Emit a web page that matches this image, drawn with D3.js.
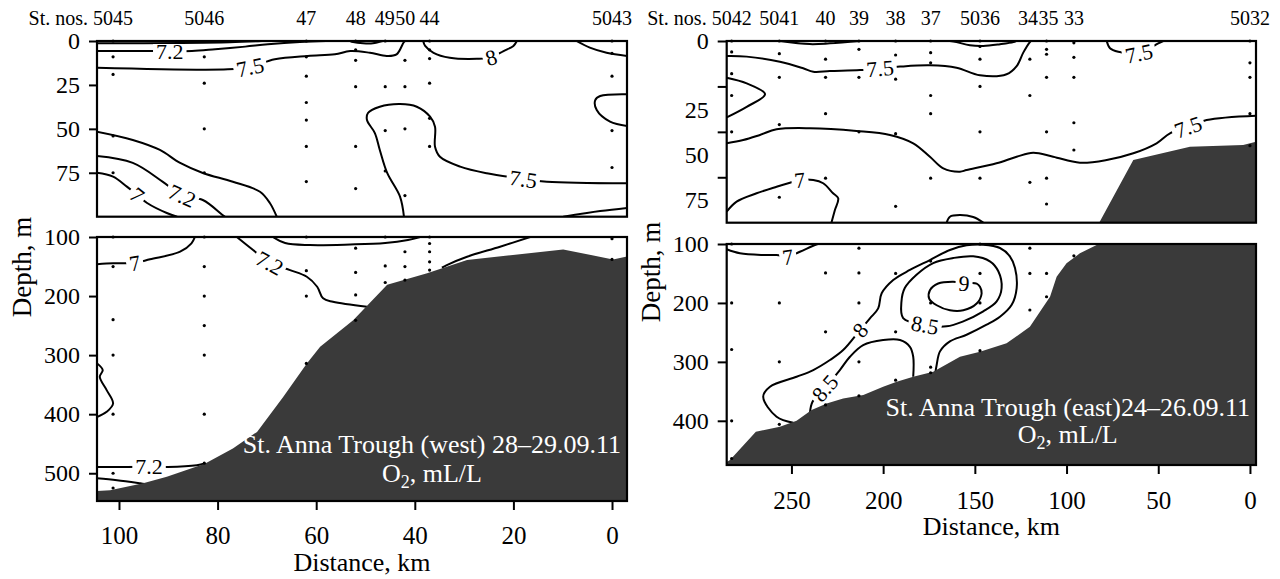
<!DOCTYPE html>
<html>
<head>
<meta charset="utf-8">
<script src="https://cdn.jsdelivr.net/npm/d3@7"></script>
<style>
  body { margin: 0; background: #fff; }
</style>
</head>
<body>
<svg id="chart" width="1280" height="579" font-family="'Liberation Serif', 'Times New Roman', serif"></svg>
<script>
// ---------------- West section: St. Anna Trough (west) ----------------
const westStationNames = ["5045", "5046", "47", "48", "49", "50", "44", "5043"];
const westStationDist = [101.2, 82.7, 62, 52, 46, 42, 37, 0];
const westSampleDepths = [
  [0, 9, 19, 54, 75, 100, 150, 240, 300, 400, 500, 525],
  [9, 24, 50, 75, 100, 150, 200, 250, 300, 400, 483],
  [0, 9, 20, 35, 45, 60, 80, 100, 157, 200, 314],
  [0, 5, 11, 26, 60, 84, 119, 160, 198, 241],
  [0, 26, 51, 74, 100, 149, 177],
  [11, 26, 50, 88, 125, 150, 173],
  [0, 5, 10, 24, 44, 60, 100, 111, 125, 142, 156],
  [0, 7, 20, 51, 72, 103, 138]
];
// sea floor along the section: [distance km, depth m]
const westBottom = [[104.5, 530], [101.8, 529], [95.1, 517], [90.3, 506], [82.6, 484], [76.9, 458],
  [72, 430], [66.7, 371], [61.9, 314], [59.2, 286], [52.5, 241], [45.6, 181], [37.5, 161.5],
  [29.4, 139], [20.1, 130.5], [9.9, 121], [-0.2, 138], [-3.1, 133]];
// O2 isolines, 0-100 m; "label" is the index of the point carrying the value label
const westUpperContours = [
  { level: "7", pts: [[104.5, 1.3], [87.6, 1.1], [77.5, 0.7], [71, 0]] },
  { level: "7.2", label: 2, pts: [[104.5, 5.7], [93.7, 5.7], [89.7, 5.7], [85.2, 5.7], [80.5, 4.7], [74.4, 3.2], [69.8, 1.9], [63.3, 0.6], [58, 0]] },
  { level: "7.5", label: 2, pts: [[104.5, 15.2], [77.9, 16.1], [73.4, 14.8], [68.4, 10.4], [61.7, 8.5], [56.2, 7.6], [53.1, 5.7], [49.1, 6.7], [45.7, 8.5], [43.7, 7.6], [42.3, 1], [42, 0]] },
  { level: "7.5", pts: [[53.1, 0], [52.5, 0.6], [50.5, 1.3], [48.5, 1.3], [46.5, 0]] },
  { level: "8", label: 5, pts: [[38.3, 0], [37.9, 2.8], [36.2, 6.7], [32.9, 9.5], [27.4, 10.1], [24.5, 9.3], [22, 5.7], [20, 2.8], [19.3, 0]] },
  { level: "8", pts: [[7.2, 0], [4.5, 3.8], [1.1, 6.7], [-3.1, 8.5]] },
  { level: "7.5", pts: [[-3.1, 30.3], [2.4, 31.3], [3.4, 33.6], [3.1, 39.3], [0.4, 45.9], [-3.1, 48.4]] },
  { level: "7.5", label: 16, pts: [[42.2, 100], [43, 88.6], [45.6, 75.1], [47.1, 62], [48.1, 52.4], [49.7, 45], [49.5, 41], [47.1, 37.4], [43, 35.9], [39.6, 37.4], [36.9, 43.1], [35.9, 48.8], [35.9, 60.2], [34.9, 65.9], [30.8, 71.5], [25.4, 75.3], [18, 78.5], [13.2, 80.1], [-3.1, 81]] },
  { level: "7.5", pts: [[104.5, 51.6], [97.2, 56.3], [91.7, 62], [87.6, 69.4], [83, 75.1], [76.9, 80.1], [71.4, 85.8], [69.4, 92.2], [68, 100]] },
  { level: "7.2", label: 3, pts: [[104.5, 65.5], [97.2, 69.4], [91.1, 80.2], [87.2, 88], [83, 90.5], [79, 99], [78.5, 100]] },
  { level: "7", label: 3, pts: [[104.5, 75], [101.2, 77.2], [98.4, 82.9], [96.3, 87.6], [94.3, 92.2], [90.3, 97.9], [88.2, 100]] },
  { level: "7.5", pts: [[9.9, 100], [2.4, 96.8], [-3.1, 95]] }
];
// O2 isolines below 100 m
const westLowerContours = [
  { level: "7", label: 3, pts: [[104.5, 146.3], [101.2, 144.6], [98.4, 144.6], [96.8, 144], [93.7, 137.8], [87.6, 124.9], [85.3, 110.7], [84.6, 100]] },
  { level: "7.2", label: 2, pts: [[76.1, 100], [72.8, 122], [69.4, 144], [65.3, 156], [61.9, 167.3], [59.8, 184.2], [58.6, 203.9], [56.6, 209.7], [49.7, 218.1]] },
  { level: "7.5", pts: [[68.8, 100], [66.3, 110.2], [61.3, 113.6], [53.1, 112.7], [46, 110.2], [41.4, 105.1], [38.9, 100]] },
  { level: "7.5", pts: [[16.6, 100], [22.7, 116.4], [29.4, 133.4], [33.5, 147.5], [34.5, 152]] },
  { level: "7", pts: [[104.5, 313.6], [103.3, 325.4], [103.9, 336.7], [102.5, 359.3], [101.2, 381.9], [102.5, 396], [104.5, 405]] },
  { level: "7.2", label: 2, pts: [[104.5, 489.3], [98.4, 489.3], [93.9, 489], [90.1, 489.3], [84.2, 486.4], [82.6, 483.6]] },
  { level: "7.2", pts: [[104.5, 508.5], [100.4, 511.9], [95.7, 517], [94, 519]] }
];
const westXTicks = [100, 80, 60, 40, 20, 0];
const westUpperTicks = [0, 25, 50, 75];
const westLowerTicks = [100, 200, 300, 400, 500];

// ---------------- East section: St. Anna Trough (east) ----------------
const eastStationNames = ["5042", "5041", "40", "39", "38", "37", "5036", "34", "35", "33", "5032"];
const eastStationDist = [282.6, 256.6, 231.4, 213.2, 193.2, 174.1, 147.2, 120, 110.9, 96, 0];
const eastSampleDepths = [
  [0, 6, 18, 30, 50, 100, 200, 279, 400, 464],
  [0, 7, 20, 46, 86, 200, 300, 406],
  [0, 10, 20, 40, 75.5, 149, 249, 373],
  [0, 4.6, 20, 50, 107, 149, 200, 300, 357.6],
  [0, 7.7, 21, 51, 91, 150, 249, 331],
  [0, 6.4, 12, 30, 40, 75.5, 129, 200, 309, 318.5],
  [0, 3, 10, 25, 50, 75.5, 100, 150, 200, 281],
  [10, 30, 77.8, 107, 150, 212],
  [0, 4.6, 7.3, 20, 50, 75.5, 89.7, 150, 189.5],
  [1, 9, 20, 45, 60, 120],
  [0, 12, 20, 40, 57.6]
];
const eastBottom = [[285.3, 470], [283.5, 466.7], [269.4, 418.7], [256.3, 410.2], [247.2, 400], [239, 381.8],
  [230.8, 370.5], [221.8, 362], [210.8, 356.4], [200, 342.3], [192.6, 333.8], [183.6, 325.3], [172.7, 316.8],
  [158.1, 291.3], [147.2, 282.9], [132.7, 268.6], [120, 240.4], [114.5, 215], [109, 189.5], [105.4, 155.5],
  [100, 132.8], [92.7, 115.8], [83.6, 101.7], [82.2, 100], [63.6, 65.5], [32.7, 58.2], [3.7, 57.2], [-3.3, 55.4]];
const eastUpperContours = [
  { level: "7.5", pts: [[256.3, 0], [240, 1.7], [229, 1.3], [212.6, 0]] },
  { level: "7.5", pts: [[163.6, 0], [160, 0.6], [152.7, 2.4], [145.4, 2.8], [136.3, 1.8], [129, 0.6], [127.6, 0]] },
  { level: "7.5", label: 7, pts: [[285.3, 8.3], [274.4, 8.6], [256.3, 11.4], [243.6, 15], [238.1, 16.9], [229, 16.5], [212.6, 16], [201.7, 15.1], [190.8, 14.1], [174.5, 13.4], [160, 14.7], [147.2, 18.9], [132.7, 18.3], [127.2, 13.8], [123.6, 6.4], [120, 0.6], [119.4, 0]] },
  { level: "7.5", pts: [[285.3, 20.2], [274.4, 23.3], [264.4, 29.3], [274.4, 36.2], [285.3, 42]] },
  { level: "7.5", label: 21, pts: [[285.3, 56.3], [276.3, 54.5], [267.2, 51.7], [258.1, 48.6], [239.9, 48], [214.5, 49.5], [196.3, 51.7], [183.6, 56.3], [174.5, 63.7], [167.2, 70.1], [158.1, 71.9], [154.5, 71], [138.2, 67.3], [127.2, 63.7], [118.2, 61.5], [107.3, 63.7], [92.7, 67], [78.1, 65.5], [63.6, 61.8], [50.9, 56.3], [43.6, 50.8], [33.8, 47.3], [23.6, 43.5], [-3.3, 41.1]] },
  { level: "7", label: 5, pts: [[285.3, 93.9], [279.9, 88.4], [269, 83.8], [258.1, 80.2], [250.8, 78], [245.4, 76.5], [238.1, 76.5], [232.7, 78.3], [227.3, 83.8], [224.5, 86.6], [226.3, 93], [228.2, 100]] },
  { level: "7", pts: [[165.4, 100], [163.6, 96.7], [158.1, 95.8], [150.9, 96.9], [145.4, 100]] },
  { level: "7.5", label: 3, pts: [[78.1, 0], [76.3, 4], [71.8, 5.9], [60.5, 6.8], [50, 1.3], [47.3, 0]] }
];
const eastLowerContours = [
  { level: "7", label: 4, pts: [[285.3, 109], [278.1, 115.8], [265.4, 118.7], [258.1, 118.7], [251.9, 121.6], [245.4, 113.1], [237.2, 101.7], [235.6, 100]] },
  { level: "8", label: 8, pts: [[249, 403.4], [258.1, 393.2], [265.4, 359.3], [261.7, 342.3], [247.2, 325.3], [238.1, 313.9], [229, 296.9], [221.8, 280], [212.6, 246], [207.2, 226.1], [202.7, 209.2], [200.8, 183.7], [194.5, 161.1], [185.4, 144.1], [174.5, 127.2], [163.6, 110.2], [154.5, 102.2], [145.4, 101.2], [136.3, 106.8], [130.9, 120.9], [128.1, 140.7], [127.2, 174.7], [129.9, 203.1], [136.3, 223.4], [143.6, 237], [154.5, 254], [163.6, 265.2], [169, 282.2], [170.8, 304.9], [171.8, 324.1]] },
  { level: "8.5", label: 2, pts: [[239.9, 386.4], [238.5, 367.7], [231.8, 344.5], [223.6, 313.9], [218.1, 291.3], [210.9, 271.5], [200, 263], [190.8, 263], [185.4, 274.4], [183.6, 291.3], [183.6, 325.3]] },
  { level: "8.5", label: 14, closed: true, pts: [[165.4, 239.7], [156.3, 231.2], [145.4, 214.2], [138.1, 197.3], [135.4, 174.7], [137.2, 146.3], [141.8, 129.4], [150.9, 120.9], [161.8, 123.8], [172.7, 132.3], [181.8, 152.1], [188.2, 174.7], [190, 197.3], [189.1, 225.6], [177.2, 237.5]] },
  { level: "9", label: 11, closed: true, pts: [[161.8, 164.1], [170, 167], [174.5, 178.4], [174.9, 192.5], [170.8, 203.9], [163.6, 212.4], [156.3, 212.4], [149, 201], [146.3, 184], [147.2, 172.7], [149, 167.1], [155.9, 166.5]] }
];
const eastXTicks = [250, 200, 150, 100, 50, 0];
const eastUpperTicks = [0, 25, 50, 75];
const eastLowerTicks = [100, 200, 300, 400];

// ---------------- drawing ----------------
const FONT = "'Liberation Serif', 'Times New Roman', serif";
const svg = d3.select("#chart");
const defs = svg.append("defs");
const GROUND = "#3a3a3a";
let clipCount = 0;

function styleAxis(ax, size) {
  ax.attr("font-family", FONT).attr("font-size", size);
  ax.select(".domain").remove();
  ax.selectAll(".tick line").attr("stroke-width", 2);
  ax.selectAll(".tick text").attr("font-family", FONT).attr("font-size", size).attr("fill", "#000");
}

function drawSection(sec) {
  const x = d3.scaleLinear().domain(sec.distDomain).range(sec.xRange);
  const parts = [
    { y: d3.scaleLinear().domain([0, 100]).range(sec.upperRange), contours: sec.upperContours,
      ticks: sec.upperTicks, labelShift: sec.upperLabelShift, keep: z => z < 100, top: true },
    { y: d3.scaleLinear().domain(sec.lowerDomain).range(sec.lowerRange), contours: sec.lowerContours,
      ticks: sec.lowerTicks, labelShift: 0, keep: z => z >= 100, top: false }
  ];
  const [x0, x1] = sec.xRange;

  parts.forEach(p => {
    const [y0, y1] = p.y.range();
    const id = "clip" + (clipCount++);
    defs.append("clipPath").attr("id", id).append("rect")
      .attr("x", x0).attr("y", y0).attr("width", x1 - x0).attr("height", y1 - y0);
    const g = svg.append("g").attr("clip-path", `url(#${id})`);

    const open = d3.line().x(d => x(d[0])).y(d => p.y(d[1])).curve(d3.curveCatmullRom.alpha(0.5));
    const closed = d3.line().x(d => x(d[0])).y(d => p.y(d[1])).curve(d3.curveCatmullRomClosed.alpha(0.5));

    g.selectAll("path.iso").data(p.contours).join("path").attr("class", "iso")
      .attr("d", c => (c.closed ? closed : open)(c.pts))
      .attr("fill", "none").attr("stroke", "#000").attr("stroke-width", 2);

    // sea floor
    const ground = d3.area().x(d => x(d[0])).y0(y1 + 5).y1(d => p.y(d[1]));
    g.append("path").attr("d", ground(sec.bottom)).attr("fill", GROUND);

    // isoline values, written along the line over a white gap
    p.contours.filter(c => c.label != null).forEach(c => {
      const n = c.pts.length, i = c.label;
      const a = c.pts[c.closed ? (i - 1 + n) % n : Math.max(i - 1, 0)];
      const b = c.pts[c.closed ? (i + 1) % n : Math.min(i + 1, n - 1)];
      let ang = Math.atan2(p.y(b[1]) - p.y(a[1]), x(b[0]) - x(a[0])) * 180 / Math.PI;
      if (ang > 90) ang -= 180;
      if (ang < -90) ang += 180;
      const lg = svg.append("g")
        .attr("transform", `translate(${x(c.pts[i][0])},${p.y(c.pts[i][1])}) rotate(${ang})`);
      const gap = lg.append("rect").attr("fill", "#fff");
      const t = lg.append("text").attr("text-anchor", "middle").attr("dy", "0.35em")
        .attr("font-size", 22).attr("fill", "#000").text(c.level);
      const bb = t.node().getBBox();
      gap.attr("x", bb.x - 3).attr("y", -7).attr("width", bb.width + 6).attr("height", 14);
    });

    // sampling depths at each station
    const pts = [];
    sec.dist.forEach((d, k) => sec.depths[k].filter(p.keep).forEach(z => pts.push([d, z])));
    svg.append("g").selectAll("circle").data(pts).join("circle")
      .attr("cx", d => x(d[0])).attr("cy", d => p.y(d[1])).attr("r", 1.6).attr("fill", "#000");

    // frame
    svg.append("rect").attr("x", x0).attr("y", y0).attr("width", x1 - x0).attr("height", y1 - y0)
      .attr("fill", "none").attr("stroke", "#000").attr("stroke-width", 2.2);

    // depth axis
    const ax = svg.append("g").attr("transform", `translate(${x0},0)`)
      .call(d3.axisLeft(p.y).tickValues(p.ticks).tickSize(sec.yTickSize).tickPadding(9));
    styleAxis(ax, 24);
    ax.selectAll(".tick text").attr("y", d => (d === 0 ? 0 : p.labelShift));

    if (p.top) {
      // station numbers, pushed apart where neighbours would collide
      const st = svg.append("g").attr("font-size", 20);
      const labels = st.selectAll("text").data(sec.names).join("text")
        .attr("x", (n, k) => x(sec.dist[k])).attr("y", 24.5)
        .attr("text-anchor", "middle").attr("fill", "#000").text(n => n);
      const nodes = labels.nodes();
      for (let k = 1; k < nodes.length; k++) {
        const pa = nodes[k - 1].getBBox(), pb = nodes[k].getBBox();
        const overlap = pa.x + pa.width + 0.5 - pb.x;
        if (overlap > 0) {
          nodes[k - 1].setAttribute("x", +nodes[k - 1].getAttribute("x") - overlap / 2);
          nodes[k].setAttribute("x", +nodes[k].getAttribute("x") + overlap / 2);
        }
      }
      const firstW = nodes[0].getComputedTextLength();
      st.append("text").attr("x", +nodes[0].getAttribute("x") - firstW / 2 - 5).attr("y", 24.5)
        .attr("text-anchor", "end").attr("fill", "#000").text("St. nos.");
    } else {
      const bx = svg.append("g").attr("transform", `translate(0,${y1})`)
        .call(d3.axisBottom(x).tickValues(sec.xTicks).tickSize(9).tickPadding(sec.xTickPad));
      styleAxis(bx, 25);
      svg.append("text").attr("x", (x0 + x1) / 2).attr("y", sec.xTitleY)
        .attr("text-anchor", "middle").attr("font-size", 26).attr("fill", "#000").text("Distance, km");
    }
  });

  // depth axis title
  svg.append("text")
    .attr("transform", `translate(${sec.yTitlePos[0]},${sec.yTitlePos[1]}) rotate(-90)`)
    .attr("text-anchor", "middle").attr("font-size", 27).attr("fill", "#000").text("Depth, m");

  // section caption on the sea floor
  const t = svg.append("text").attr("x", sec.titlePos[0]).attr("y", sec.titlePos[1])
    .attr("text-anchor", "end").attr("font-size", 26).attr("fill", "#fff").text(sec.title);
  const bb = t.node().getBBox();
  const u = svg.append("text").attr("x", bb.x + bb.width / 2).attr("y", sec.titlePos[1] + sec.titleGap)
    .attr("text-anchor", "middle").attr("font-size", 26).attr("fill", "#fff");
  u.append("tspan").text("O");
  u.append("tspan").attr("font-size", 18).attr("dy", 6).text("2");
  u.append("tspan").attr("dy", -6).text(", mL/L");
}

drawSection({
  names: westStationNames, dist: westStationDist, depths: westSampleDepths, bottom: westBottom,
  upperContours: westUpperContours, lowerContours: westLowerContours,
  upperTicks: westUpperTicks, lowerTicks: westLowerTicks, xTicks: westXTicks,
  distDomain: [104.46, -3.04], xRange: [97, 627],
  upperRange: [41, 216.7], lowerDomain: [100, 547], lowerRange: [237, 501],
  upperLabelShift: 0, yTickSize: 8, xTickPad: 16, xTitleY: 571,
  yTitlePos: [31, 267],
  title: "St. Anna Trough (west) 28–29.09.11", titlePos: [621, 453], titleGap: 28.5
});

drawSection({
  names: eastStationNames, dist: eastStationDist, depths: eastSampleDepths, bottom: eastBottom,
  upperContours: eastUpperContours, lowerContours: eastLowerContours,
  upperTicks: eastUpperTicks, lowerTicks: eastLowerTicks, xTicks: eastXTicks,
  distDomain: [285.3, -3.3], xRange: [726.7, 1256],
  upperRange: [41, 222.7], lowerDomain: [100, 475], lowerRange: [244, 465],
  upperLabelShift: 23, yTickSize: 9, xTickPad: 17, xTitleY: 535,
  yTitlePos: [660, 272],
  title: "St. Anna Trough (east)24–26.09.11", titlePos: [1250, 416], titleGap: 26.5
});
</script>
</body>
</html>
